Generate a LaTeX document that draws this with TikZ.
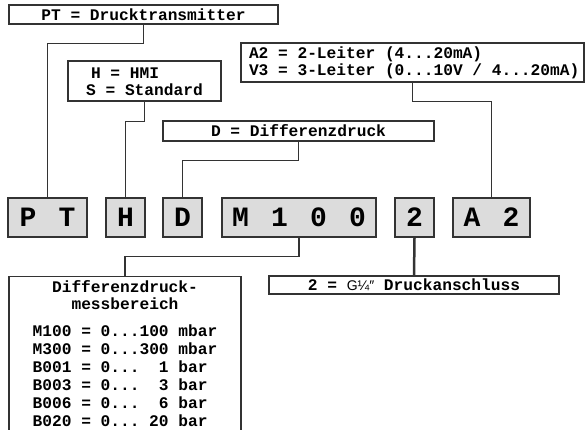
\documentclass[tikz,border=0pt]{standalone}
\usepackage{fontspec}
\setmonofont{Liberation Mono}[Ligatures={NoCommon,NoRequired,NoContextual}]
\newfontfamily\gfont{Liberation Sans}
\usetikzlibrary{positioning}
\definecolor{linec}{HTML}{333333}
\definecolor{codefill}{HTML}{DCDCDC}
\newcommand{\cchar}[1]{\makebox[19.5pt]{#1}}
\newcommand{\spc}{\hspace*{9.7pt}}
\newcommand{\ddd}{\makebox[9.7pt]{.}\makebox[9.7pt]{.}\makebox[9.7pt]{.}}
\newcommand{\labfont}{\ttfamily\bfseries\fontsize{16.2}{17}\selectfont}

\begin{document}
\begin{tikzpicture}[x=1pt, y=-1pt,
 font=\labfont,
 lab/.style={draw=linec,line width=1.3pt,fill=white,inner sep=0pt,align=center},
 code/.style={draw=linec,fill=codefill,line width=1.3pt,inner sep=0pt,minimum height=39pt,
  font=\ttfamily\bfseries\fontsize{28}{28}\selectfont},
 con/.style={linec,line width=1.3pt}]
\useasboundingbox (0,0) rectangle (585,429);
% code row
\node[code,minimum width=79pt] (pt) at (47.5,217.5) {\cchar{P}\cchar{}\cchar{T}};
\node[code,minimum width=39pt] (h) at (125.5,217.5) {\cchar{H}};
\node[code,minimum width=39pt] (d) at (182.5,217.5) {\cchar{D}};
\node[code,minimum width=154pt] (m) at (299,217.5) {\cchar{M}\cchar{}\cchar{1}\cchar{}\cchar{0}\cchar{}\cchar{0}};
\node[code,minimum width=39pt] (g) at (414.5,217.5) {\cchar{2}};
\node[code,minimum width=77pt] (a) at (491.5,217.5) {\cchar{A}\cchar{}\cchar{2}};
% labels above
\node[lab,minimum width=269pt,minimum height=19pt] (ptlab) at (143.5,14.5) {PT\spc=\spc Drucktransmitter};
\node[lab,minimum width=153pt,minimum height=40pt] (hlab) at (144.5,81)
 {H\spc=\spc HMI\phantom{dard}\\S\spc=\spc Standard};
\node[lab,minimum width=271pt,minimum height=20pt] (dlab) at (298.5,131) {D\spc=\spc Differenzdruck};
\node[lab,align=left,text width=327pt,inner xsep=8pt,minimum height=39pt] (alab) at (412.5,62.5)
 {A2\spc=\spc 2-Leiter\spc(4\ddd20mA)\\V3\spc=\spc 3-Leiter\spc(0\ddd10V\spc/\spc4\ddd20mA)};
% labels below
\node[lab,anchor=north,text width=232pt,inner ysep=4pt] (rlab) at (125,276)
 {Differenzdruck-\\messbereich\\[14pt]
  \begin{tabular}{@{}l@{}}
  M100\spc=\spc0\ddd100\spc mbar\\[1pt]
  M300\spc=\spc0\ddd300\spc mbar\\[1pt]
  B001\spc=\spc0\ddd\phantom{00}1\spc bar\\[1pt]
  B003\spc=\spc0\ddd\phantom{00}3\spc bar\\[1pt]
  B006\spc=\spc0\ddd\phantom{00}6\spc bar\\[1pt]
  B020\spc=\spc0\ddd\phantom{0}20\spc bar\\[1pt]
  \\
  \end{tabular}};
\node[lab,minimum width=290pt,minimum height=18pt] (glab) at (414,285)
 {2\spc=\spc{\gfont\mdseries\fontsize{14}{14}\selectfont G¼″}\spc Druckanschluss};
% connectors
\draw[con] (ptlab.south) -- ++(0,19) -| (pt.north);
\draw[con] (hlab.south) -- ++(0,20) -| (h.north);
\draw[con] (dlab.south) -- ++(0,19) -| (d.north);
\draw[con] (alab.south) -- ++(0,19) -| (a.north);
\draw[con] (m.south) -- ++(0,19) -| (rlab.north);
\draw[con,line width=2.5pt] (g.south) -- (glab.north);
\end{tikzpicture}
\end{document}
